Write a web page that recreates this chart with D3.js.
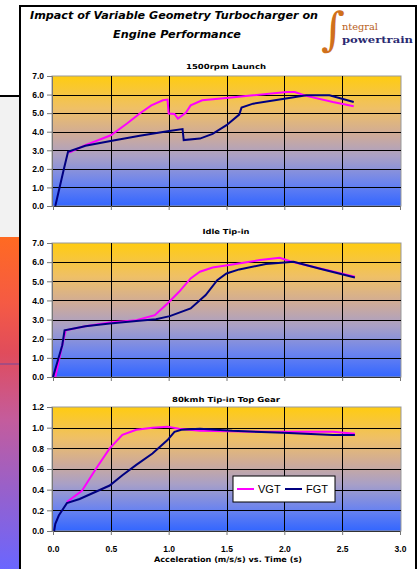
<!DOCTYPE html>
<html lang="en">
<head>
<meta charset="UTF-8">
<title>Impact of Variable Geometry Turbocharger on Engine Performance</title>
<style>
  body { margin: 0; background: #fff; }
  svg { display: block; font-family: "DejaVu Sans", sans-serif; }
  .ytick text, .xtick text { font-weight: bold; font-size: 8.5px; fill: #000; }
</style>
<script src="https://d3js.org/d3.v7.min.js"></script>
</head>
<body>
<div id="chart"></div>
<script>
// ---- data: [time (s), acceleration (m/s/s)] ----
var launchVgt = [[0.14,2.88],[0.28,3.28],[0.50,3.81],[0.64,4.44],[0.75,4.98],[0.85,5.42],[0.95,5.69],[0.99,5.73],
  [1.00,4.98],[1.05,4.96],[1.08,4.71],[1.15,5.03],[1.19,5.42],[1.29,5.69],[1.50,5.82],[1.73,5.96],
  [2.02,6.14],[2.09,6.14],[2.19,5.93],[2.42,5.60],[2.60,5.37]];
var launchFgt = [[0.02,0],[0.095,2.02],[0.13,2.92],[0.28,3.24],[0.51,3.51],[0.75,3.78],[0.99,4.03],[1.12,4.14],
  [1.13,3.55],[1.27,3.63],[1.38,3.88],[1.50,4.35],[1.61,4.92],[1.63,5.30],[1.73,5.51],[2.00,5.78],
  [2.19,5.96],[2.39,5.96],[2.60,5.60]];

var idleVgt = [[0.02,0],[0.08,1.66],[0.11,2.44],[0.28,2.65],[0.49,2.85],[0.72,2.97],[0.88,3.23],[0.99,3.84],
  [1.09,4.45],[1.19,5.15],[1.27,5.50],[1.38,5.72],[1.55,5.88],[1.79,6.11],[1.96,6.23],[2.05,6.05],
  [2.31,5.67],[2.61,5.24]];
var idleFgt = [[0.0,0],[0.08,1.66],[0.10,2.44],[0.28,2.65],[0.49,2.79],[0.72,2.92],[0.89,3.02],[1.01,3.18],
  [1.19,3.58],[1.32,4.28],[1.42,5.06],[1.50,5.41],[1.61,5.62],[1.84,5.90],[2.08,6.02],[2.30,5.67],[2.61,5.20]];

var gearVgt = [[0.12,0.28],[0.25,0.39],[0.37,0.60],[0.49,0.80],[0.60,0.93],[0.72,0.98],[0.86,1.00],[0.99,1.01],
  [1.09,0.99],[1.27,0.97],[1.84,0.96],[2.42,0.96],[2.61,0.94]];
var gearFgt = [[0.01,0],[0.02,0.07],[0.05,0.15],[0.12,0.27],[0.23,0.31],[0.37,0.38],[0.49,0.44],[0.60,0.54],
  [0.72,0.64],[0.86,0.75],[0.99,0.88],[1.05,0.96],[1.11,0.98],[1.27,0.99],[1.55,0.97],[1.99,0.95],
  [2.42,0.93],[2.61,0.93]];

var panelTitles = ["1500rpm Launch", "Idle Tip-in", "80kmh Tip-in Top Gear"];
var seriesNames = ["VGT", "FGT"];
var xTicks = [0, 0.5, 1.0, 1.5, 2.0, 2.5, 3.0];
var accelTicks = [0, 1, 2, 3, 4, 5, 6, 7];
var gearTicks = [0, 0.2, 0.4, 0.6, 0.8, 1.0, 1.2];

var width = 418, height = 569;
var vgtColor = "#ff00ff", fgtColor = "#000080";

var svg = d3.select("#chart").append("svg")
    .attr("width", width)
    .attr("height", height);

var defs = svg.append("defs");

var plotGrad = defs.append("linearGradient")
    .attr("id", "plotGrad")
    .attr("x1", 0).attr("y1", 0).attr("x2", 0).attr("y2", 1);
[["0%","#ffcc11"],["25%","#efc066"],["45%","#cfab98"],["62%","#a9a0c6"],["82%","#6c84ee"],["100%","#3366ff"]]
  .forEach(function(s){ plotGrad.append("stop").attr("offset", s[0]).attr("stop-color", s[1]); });

var sideGrad = defs.append("linearGradient")
    .attr("id", "sideGrad")
    .attr("x1", 0).attr("y1", 0).attr("x2", 0).attr("y2", 1);
[["0%","#ff6a22"],["20%","#f55a44"],["35%","#e04c5c"],["55%","#c45c9c"],["75%","#9a60c8"],["100%","#6a66ff"]]
  .forEach(function(s){ sideGrad.append("stop").attr("offset", s[0]).attr("stop-color", s[1]); });

// neighbouring slide peeking in on the left
svg.append("rect").attr("x", 0).attr("y", 97).attr("width", 20).attr("height", 140).attr("fill", "#f2f2f2");
svg.append("rect").attr("x", 0).attr("y", 237).attr("width", 20).attr("height", 332).attr("fill", "url(#sideGrad)");
svg.append("line").attr("x1", 0).attr("x2", 20).attr("y1", 96).attr("y2", 96)
    .attr("stroke", "#000").attr("stroke-width", 2);
svg.append("line").attr("x1", 0).attr("x2", 20).attr("y1", 364).attr("y2", 364)
    .attr("stroke", "#7a4a9a").attr("stroke-width", 1.5).attr("opacity", 0.7);

// slide frame
svg.append("path")
    .attr("d", "M20,569V6H416V569")
    .attr("fill", "none")
    .attr("stroke", "#000")
    .attr("stroke-width", 2);

// main title
var title = svg.append("g")
    .attr("font-weight", "bold")
    .attr("font-style", "italic")
    .attr("font-size", "10px")
    .attr("text-anchor", "middle");
title.append("text").attr("x", 174).attr("y", 19)
    .attr("textLength", 288).attr("lengthAdjust", "spacingAndGlyphs")
    .text("Impact of Variable Geometry Turbocharger on");
title.append("text").attr("x", 177).attr("y", 38)
    .attr("textLength", 128).attr("lengthAdjust", "spacingAndGlyphs")
    .text("Engine Performance");

// logo
var logo = svg.append("g");
logo.append("text").attr("x", 321).attr("y", 45)
    .attr("font-family", "DejaVu Serif")
    .attr("font-size", "46px")
    .attr("fill", "#d0701c")
    .text("\u222B");
logo.append("text").attr("x", 342).attr("y", 30)
    .attr("font-family", "DejaVu Serif")
    .attr("font-size", "9.5px")
    .attr("fill", "#b8601a")
    .attr("textLength", 36).attr("lengthAdjust", "spacingAndGlyphs")
    .text("ntegral");
logo.append("text").attr("x", 342).attr("y", 43)
    .attr("font-family", "DejaVu Serif")
    .attr("font-weight", "bold")
    .attr("font-size", "9.5px")
    .attr("fill", "#2a2a70")
    .attr("textLength", 71).attr("lengthAdjust", "spacingAndGlyphs")
    .text("powertrain");

var x = d3.scaleLinear().domain([0, 3]).range([53, 400]);

var panels = [
  { title: panelTitles[0], titleY: 68.5, titleLen: 80, vgt: launchVgt, fgt: launchFgt, ticks: accelTicks, top: 76, bottom: 206 },
  { title: panelTitles[1], titleY: 234, titleLen: 47, vgt: idleVgt, fgt: idleFgt, ticks: accelTicks, top: 243, bottom: 377 },
  { title: panelTitles[2], titleY: 401.5, titleLen: 108, vgt: gearVgt, fgt: gearFgt, ticks: gearTicks, top: 407, bottom: 531 }
];

panels.forEach(function(p, i) {
  var y = d3.scaleLinear()
      .domain([0, d3.max(p.ticks)])
      .range([p.bottom, p.top]);

  var g = svg.append("g");

  g.append("rect")
      .attr("x", 52).attr("y", p.top)
      .attr("width", 349).attr("height", p.bottom - p.top)
      .attr("fill", "url(#plotGrad)")
      .attr("stroke", "#999")
      .attr("stroke-width", 1);

  // gridlines
  g.selectAll(".hgrid")
    .data(p.ticks.slice(1, -1))
    .enter().append("line")
      .attr("x1", 52).attr("x2", 401)
      .attr("y1", function(d){ return Math.round(y(d)) + 0.5; })
      .attr("y2", function(d){ return Math.round(y(d)) + 0.5; })
      .attr("stroke", "#000");
  g.selectAll(".vgrid")
    .data(xTicks.slice(1, -1))
    .enter().append("line")
      .attr("y1", p.top).attr("y2", p.bottom)
      .attr("x1", function(d){ return Math.round(x(d)) + 0.5; })
      .attr("x2", function(d){ return Math.round(x(d)) + 0.5; })
      .attr("stroke", "#000");

  // y axis
  var yAxis = g.append("g")
      .attr("class", "ytick")
      .attr("transform", "translate(52,0)")
      .call(d3.axisLeft(y).tickValues(p.ticks).tickSize(5).tickPadding(3).tickFormat(d3.format(".1f")));
  yAxis.selectAll("path, line").attr("stroke", "#777");

  // x axis
  var xAxis = g.append("g")
      .attr("class", "xtick")
      .attr("transform", "translate(0," + p.bottom + ")")
      .call(d3.axisBottom(x).tickValues(xTicks).tickSize(4).tickPadding(11).tickFormat(d3.format(".1f")));
  xAxis.select(".domain").attr("stroke", "#333");
  xAxis.selectAll("line").attr("stroke", "#777");
  if (i < 2) xAxis.selectAll("text").remove();

  // series
  var line = d3.line()
      .x(function(d){ return x(d[0]); })
      .y(function(d){ return y(d[1]); });

  g.append("path").datum(p.vgt)
      .attr("d", line).attr("fill", "none")
      .attr("stroke", vgtColor).attr("stroke-width", 2);
  g.append("path").datum(p.fgt)
      .attr("d", line).attr("fill", "none")
      .attr("stroke", fgtColor).attr("stroke-width", 2);

  // panel title
  svg.append("text")
      .attr("x", 226).attr("y", p.titleY)
      .attr("text-anchor", "middle")
      .attr("font-weight", "bold")
      .attr("font-size", "7px")
      .attr("textLength", p.titleLen).attr("lengthAdjust", "spacingAndGlyphs")
      .text(p.title);
});

// x axis title
svg.append("text")
    .attr("x", 228).attr("y", 562)
    .attr("text-anchor", "middle")
    .attr("font-weight", "bold")
    .attr("font-size", "7.5px")
    .attr("textLength", 148).attr("lengthAdjust", "spacingAndGlyphs")
    .text("Acceleration (m/s/s) vs. Time (s)");

// legend
var legend = svg.append("g").attr("transform", "translate(233,476)");
legend.append("rect")
    .attr("width", 102).attr("height", 26)
    .attr("fill", "#fff").attr("stroke", "#000");
var items = legend.selectAll(".item")
    .data(seriesNames)
    .enter().append("g")
    .attr("transform", function(d, i){ return "translate(" + (4 + i * 48) + ",13)"; });
items.append("line")
    .attr("x1", 0).attr("x2", 17)
    .attr("stroke", function(d, i){ return i === 0 ? vgtColor : fgtColor; })
    .attr("stroke-width", 2);
items.append("text")
    .attr("x", 21).attr("dy", "0.36em")
    .attr("font-family", "Liberation Sans, Arial, sans-serif")
    .attr("font-size", "11px")
    .text(function(d){ return d; });
</script>
</body>
</html>
